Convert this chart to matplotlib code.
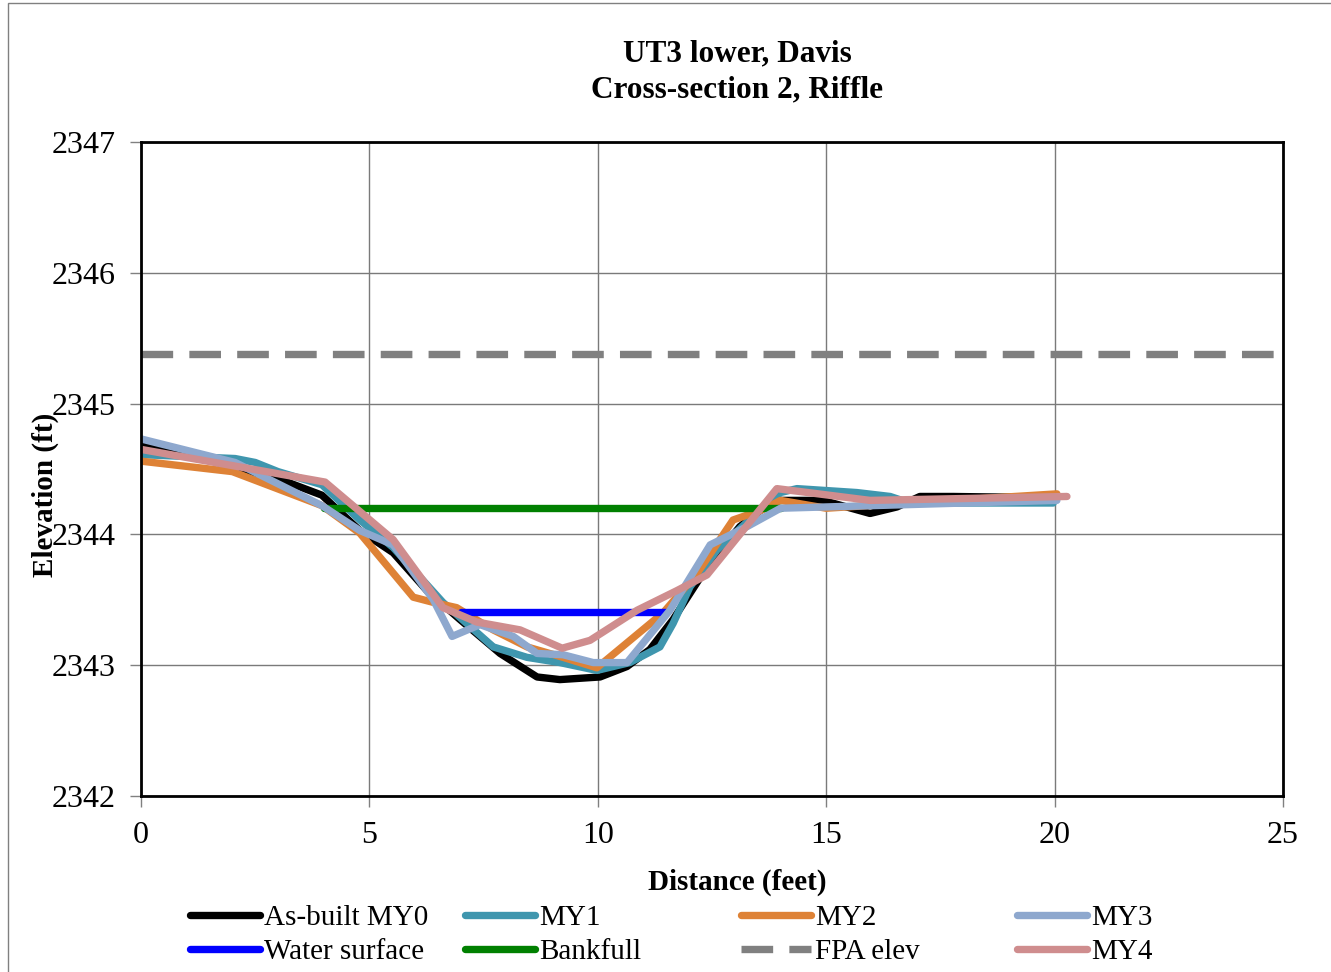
import matplotlib
matplotlib.use('Agg')
import matplotlib.pyplot as plt
from matplotlib.patches import Rectangle

plt.rcParams['font.family'] = ['Liberation Serif', 'DejaVu Serif']

# cross-section survey data (distance in feet, elevation in feet)
my0_x = [0, 2.0, 3.2, 3.96, 4.79, 5.52, 6.26, 6.98, 7.86, 8.67, 9.17, 10.05, 10.64,
         11.14, 11.65, 12.39, 13.11, 13.84, 14.93, 15.96, 16.55, 17.05, 17.78, 20.0]
my0_y = [2344.70, 2344.52, 2344.40, 2344.30, 2344.03, 2343.86, 2343.57, 2343.35, 2343.09,
         2342.91, 2342.89, 2342.91, 2342.99, 2343.12, 2343.35, 2343.75, 2344.06, 2344.26,
         2344.26, 2344.16, 2344.21, 2344.29, 2344.29, 2344.28]

my1_x = [0, 2.06, 2.5, 3.0, 3.96, 4.79, 5.52, 6.61, 7.71, 8.45, 9.17, 9.98, 10.7, 11.36,
         11.65, 12.02, 12.61, 13.62, 14.0, 14.36, 15.67, 16.4, 16.83, 19.97]
my1_y = [2344.61, 2344.58, 2344.55, 2344.48, 2344.38, 2344.11, 2343.90, 2343.48, 2343.14,
         2343.06, 2343.02, 2342.96, 2343.02, 2343.14, 2343.32, 2343.60, 2343.88, 2344.21,
         2344.32, 2344.35, 2344.32, 2344.29, 2344.24, 2344.24]

my2_x = [0, 2.0, 3.96, 4.79, 5.96, 6.4, 6.91, 7.71, 8.45, 9.24, 9.98, 11.43, 12.17, 12.96,
         13.62, 14.0, 15.0, 20.05]
my2_y = [2344.56, 2344.48, 2344.22, 2344.01, 2343.52, 2343.48, 2343.44, 2343.27, 2343.14,
         2343.06, 2342.98, 2343.40, 2343.70, 2344.11, 2344.19, 2344.26, 2344.20, 2344.31]

my3_x = [0, 2.06, 3.96, 4.79, 5.52, 6.4, 6.81, 7.42, 8.15, 8.67, 9.24, 9.9, 10.64, 11.58,
         12.46, 13.27, 14.0, 20.05]
my3_y = [2344.73, 2344.55, 2344.22, 2344.03, 2343.92, 2343.50, 2343.22, 2343.31, 2343.22,
         2343.09, 2343.08, 2343.02, 2343.02, 2343.42, 2343.92, 2344.06, 2344.20, 2344.26]

my4_x = [0, 4.03, 5.52, 6.61, 7.35, 8.3, 9.22, 9.83, 10.86, 11.73, 12.39, 13.92, 15.96, 20.27]
my4_y = [2344.65, 2344.40, 2343.96, 2343.44, 2343.33, 2343.27, 2343.13, 2343.19, 2343.42,
         2343.57, 2343.69, 2344.35, 2344.26, 2344.29]

water_x = [7.0, 11.5]
water_y = [2343.41, 2343.41]
bank_x = [4.0, 14.0]
bank_y = [2344.20, 2344.20]
fpa_x = [0, 25]
fpa_y = [2345.38, 2345.38]

fig = plt.figure(figsize=(13.31, 9.72), dpi=100)
ax = fig.add_axes([141/1331, 1-796/972, 1142/1331, 654/972])

lw = 5.3
kw = dict(lw=lw, solid_capstyle='round', solid_joinstyle='round')
l0, = ax.plot(my0_x, my0_y, color='black', label='As-built MY0', **kw)
l1, = ax.plot(my1_x, my1_y, color='#3F96AE', label='MY1', **kw)
l2, = ax.plot(my2_x, my2_y, color='#DE8236', label='MY2', **kw)
lw_, = ax.plot(water_x, water_y, color='#0000FF', label='Water surface', **kw)
lb, = ax.plot(bank_x, bank_y, color='#008000', label='Bankfull', **kw)
lf, = ax.plot(fpa_x, fpa_y, color='#808080', lw=lw, linestyle=(0, (4.3, 2.2)),
              label='FPA elev')
l3, = ax.plot(my3_x, my3_y, color='#8EA8CE', label='MY3', **kw)
l4, = ax.plot(my4_x, my4_y, color='#CF8D8E', label='MY4', **kw)

ax.set_xlim(0, 25)
ax.set_ylim(2342, 2347)
ax.set_xticks([0, 5, 10, 15, 20, 25])
ax.set_yticks([2342, 2343, 2344, 2345, 2346, 2347])
ax.grid(True, color='#7a7a7a', lw=1)
ax.set_axisbelow(True)
for s in ax.spines.values():
    s.set_linewidth(2)
ax.tick_params(labelsize=23, length=8, width=1, color='#808080', pad=10)

ax.set_xlabel('Distance (feet)', fontsize=21, fontweight='bold')
ax.xaxis.set_label_coords((737-141)/1142, (796-882)/654)
ax.xaxis.label.set_va('center')
ax.set_ylabel('Elevation (ft)', fontsize=21, fontweight='bold')
ax.yaxis.set_label_coords((45-141)/1142, (796-495)/654)
ax.yaxis.label.set_va('center')

fig.text(737/1331, 1-72/972, 'UT3 lower, Davis\nCross-section 2, Riffle',
         ha='center', va='center', fontsize=22.5, fontweight='bold', linespacing=1.35)

# legend as four columns
groups = [[l0, lw_], [l1, lb], [l2, lf], [l3, l4]]
xs = [190, 465, 741, 1017]
for g, x in zip(groups, xs):
    leg = fig.legend(handles=g, loc='center left', bbox_to_anchor=(x/1331, 1-935/972),
                     frameon=False, fontsize=21, handlelength=2.4, handletextpad=0.15,
                     borderpad=0, borderaxespad=0, labelspacing=0.25)

fig.patches.append(Rectangle((8/1331, -0.05), 1.1, 1-3/972+0.05, transform=fig.transFigure,
                             fill=False, edgecolor='#808080', lw=1))

fig.savefig('out.png', dpi=100)
